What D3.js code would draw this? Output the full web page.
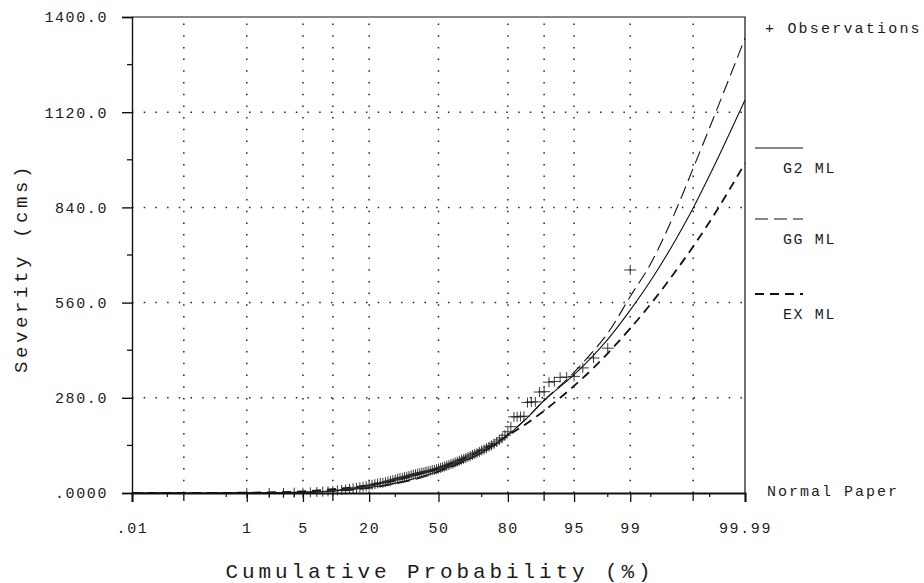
<!DOCTYPE html>
<html>
<head>
<meta charset="utf-8">
<script src="https://cdn.jsdelivr.net/npm/d3@7"></script>
<style>
  body { margin: 0; background: #fff; }
  text { font-family: 'Liberation Mono', 'DejaVu Sans Mono', monospace; fill: #1c1c1c; }
</style>
</head>
<body>
<svg id="chart" width="924" height="583"></svg>
<script>
// fitted curves at these cumulative probabilities (%)
const curvePct = [0.01, 0.1, 1, 5, 10, 20, 30, 40, 50, 60, 70, 80, 85, 90, 95, 97, 98, 99, 99.5, 99.8, 99.9, 99.95, 99.99];
const g2Values = [0, 0, 0.3, 2.5, 6, 16, 29, 45, 64, 88, 118, 170, 212, 272, 348, 405, 452, 538, 625, 745, 838, 935, 1156];
const ggValues = [0, 0, 0.2, 2, 5, 14, 27, 42, 62, 86, 118, 172, 212, 272, 355, 418, 470, 578, 675, 830, 955, 1075, 1338];
const exValues = [0, 0.1, 1, 5, 11, 23, 37, 54, 73, 96, 126, 169, 199, 242, 315, 368, 411, 484, 556, 653, 725, 798, 970];

// observations (plotting position %, severity)
const obsPct = [1, 2, 3, 4, 5, 6, 7, 8, 9, 10, 11, 12, 13, 14, 15, 16, 17, 18, 19, 20,
  21, 22, 23, 24, 25, 26, 27, 28, 29, 30, 31, 32, 33, 34, 35, 36, 37, 38, 39, 40,
  41, 42, 43, 44, 45, 46, 47, 48, 49, 50, 51, 52, 53, 54, 55, 56, 57, 58, 59, 60,
  61, 62, 63, 64, 65, 66, 67, 68, 69, 70, 71, 72, 73, 74, 75, 76, 77, 78, 79, 80,
  81, 82, 83, 84, 85, 86, 87, 88, 89, 90, 91, 92, 93, 94, 95, 96, 97, 98, 99];
const obsValues = [0, 0, 0, 1, 1, 2, 3, 4, 5, 6,
  8, 9, 10, 12, 14, 15, 17, 18, 20, 22,
  24, 26, 28, 30, 30, 32, 34, 36, 38, 40,
  42, 44, 45, 47, 48, 50, 52, 54, 55, 57,
  58, 60, 61, 63, 64, 65, 67, 68, 70, 72,
  74, 76, 78, 80, 82, 85, 87, 90, 92, 95,
  98, 100, 103, 106, 109, 112, 115, 118, 121, 125,
  128, 132, 136, 140, 145, 150, 156, 162, 170, 180,
  195, 224, 224, 225, 226, 266, 268, 268, 297, 298,
  326, 328, 340, 341, 343, 368, 397, 426, 656];

const xTickPct = [0.01, 1, 5, 20, 50, 80, 95, 99, 99.99];
const xTickLabels = ['.01', '1', '5', '20', '50', '80', '95', '99', '99.99'];
const xGridPct = [0.1, 1, 5, 10, 20, 50, 80, 90, 95, 99, 99.9];
const xMinorPct = [0.05, 0.5, 2, 3, 4, 30, 70, 98, 99.5, 99.95];
const yTicks = [0, 280, 560, 840, 1120, 1400];
const yTickLabels = ['.0000', '280.0', '560.0', '840.0', '1120.0', '1400.0'];
const yMinor = [140, 420, 700, 980, 1260];
const legendNames = ['G2 ML', 'GG ML', 'EX ML'];

// inverse normal cdf (Acklam), used for the normal-paper axis
function probit(p) {
  const a = [-3.969683028665376e+01, 2.209460984245205e+02, -2.759285104469687e+02, 1.383577518672690e+02, -3.066479806614716e+01, 2.506628277459239e+00];
  const b = [-5.447609879822406e+01, 1.615858368580409e+02, -1.556989798598866e+02, 6.680131188771972e+01, -1.328068155288572e+01];
  const c = [-7.784894002430293e-03, -3.223964580411365e-01, -2.400758277161838e+00, -2.549732539343734e+00, 4.374664141464968e+00, 2.938163982698783e+00];
  const d = [7.784695709041462e-03, 3.224671290700398e-01, 2.445134137142996e+00, 3.754408661907416e+00];
  const pl = 0.02425;
  let q, r;
  if (p < pl) {
    q = Math.sqrt(-2 * Math.log(p));
    return (((((c[0]*q+c[1])*q+c[2])*q+c[3])*q+c[4])*q+c[5]) / ((((d[0]*q+d[1])*q+d[2])*q+d[3])*q+1);
  }
  if (p > 1 - pl) {
    q = Math.sqrt(-2 * Math.log(1 - p));
    return -(((((c[0]*q+c[1])*q+c[2])*q+c[3])*q+c[4])*q+c[5]) / ((((d[0]*q+d[1])*q+d[2])*q+d[3])*q+1);
  }
  q = p - 0.5; r = q * q;
  return (((((a[0]*r+a[1])*r+a[2])*r+a[3])*r+a[4])*r+a[5])*q / (((((b[0]*r+b[1])*r+b[2])*r+b[3])*r+b[4])*r+1);
}

const margin = {top: 17, right: 179, bottom: 90, left: 132},
      width = 924 - margin.left - margin.right,
      height = 583 - margin.top - margin.bottom;

const z = d3.scaleLinear()
            .domain([probit(0.0001), probit(0.9999)])
            .range([0, width]);
const x = p => z(probit(p / 100));

const y = d3.scaleLinear()
            .domain([0, 1400])
            .range([height, 0]);

const svgRoot = d3.select('#chart');
const svg = svgRoot.append('g')
              .attr('transform', `translate(${margin.left}, ${margin.top})`);

// dotted grid
const dotStyle = g => g.attr('stroke', '#222').attr('stroke-width', 1.5).attr('stroke-dasharray', '1.5,10.2');
svg.append('g').selectAll('line')
  .data(xGridPct)
  .enter().append('line')
    .attr('x1', d => x(d)).attr('x2', d => x(d))
    .attr('y1', height).attr('y2', 0)
    .call(dotStyle);
svg.append('g').selectAll('line')
  .data(yTicks.slice(1, -1))
  .enter().append('line')
    .attr('x1', 0).attr('x2', width)
    .attr('y1', d => y(d)).attr('y2', d => y(d))
    .call(dotStyle);

// fitted curves
const line = d3.line()
  .x(d => x(d[0]))
  .y(d => y(d[1]))
  .curve(d3.curveMonotoneX);

const series = [
  {name: legendNames[0], values: g2Values, dash: null, w: 1.1},
  {name: legendNames[1], values: ggValues, dash: '13,6', w: 1.1},
  {name: legendNames[2], values: exValues, dash: '9,6', w: 1.8}
];

svg.append('g').selectAll('path')
  .data(series)
  .enter().append('path')
    .attr('d', s => line(curvePct.map((p, i) => [p, s.values[i]])))
    .attr('fill', 'none')
    .attr('stroke', '#111')
    .attr('stroke-width', s => s.w)
    .attr('stroke-dasharray', s => s.dash);

// observations
svg.append('g').selectAll('path')
  .data(obsPct.map((p, i) => [p, obsValues[i]]))
  .enter().append('path')
    .attr('transform', d => `translate(${x(d[0])}, ${y(d[1])})`)
    .attr('d', 'M-6,0H6M0,-5V5')
    .attr('stroke', '#222')
    .attr('stroke-width', 0.9)
    .attr('fill', 'none');

// frame
svg.append('path')
  .attr('d', `M0,0H${width}V${height}`)
  .attr('fill', 'none')
  .attr('stroke', '#111')
  .attr('stroke-width', 1.2);

// y axis
const yAxis = svg.append('g')
  .attr('class', 'axis Left')
  .call(d3.axisLeft(y).tickValues(yTicks).tickSize(10).tickPadding(14)
        .tickFormat((d, i) => yTickLabels[i]));
yAxis.selectAll('path, line').attr('stroke', '#111').attr('stroke-width', 1.4);
yAxis.selectAll('text')
  .attr('fill', '#1c1c1c')
  .style('font-family', "'Liberation Mono', monospace")
  .style('font-size', '15px')
  .style('letter-spacing', '1.6px');
svg.append('g').selectAll('line')
  .data(yMinor)
  .enter().append('line')
    .attr('x1', -5).attr('x2', 0)
    .attr('y1', d => y(d)).attr('y2', d => y(d))
    .attr('stroke', '#111').attr('stroke-width', 1.3);

// x axis
const xAxis = svg.append('g')
  .attr('class', 'axis Bottom')
  .attr('transform', `translate(0, ${height})`)
  .call(d3.axisBottom(z).tickValues(xTickPct.map(p => probit(p / 100)))
        .tickSize(9).tickPadding(20)
        .tickFormat((d, i) => xTickLabels[i]));
xAxis.select('path').attr('stroke', '#111').attr('stroke-width', 2);
xAxis.selectAll('line').attr('stroke', '#111').attr('stroke-width', 1.3);
xAxis.selectAll('text')
  .attr('fill', '#1c1c1c')
  .style('font-family', "'Liberation Mono', monospace")
  .style('font-size', '15px')
  .style('letter-spacing', '1.6px');

svg.append('g').selectAll('line')
  .data(xGridPct.filter(p => !xTickPct.includes(p)))
  .enter().append('line')
    .attr('x1', d => x(d)).attr('x2', d => x(d))
    .attr('y1', height).attr('y2', height + 8)
    .attr('stroke', '#111').attr('stroke-width', 1.3);
svg.append('g').selectAll('line')
  .data(xMinorPct)
  .enter().append('line')
    .attr('x1', d => x(d)).attr('x2', d => x(d))
    .attr('y1', height).attr('y2', height + 4)
    .attr('stroke', '#111').attr('stroke-width', 1.2);

// axis titles
svgRoot.append('text')
  .text('Cumulative Probability (%)')
  .attr('x', 440).attr('y', 578)
  .attr('text-anchor', 'middle')
  .style('font-size', '21px')
  .style('letter-spacing', '3.9px');

svgRoot.append('text')
  .text('Severity (cms)')
  .attr('transform', 'translate(27, 268) rotate(-90)')
  .attr('text-anchor', 'middle')
  .style('font-size', '19px')
  .style('letter-spacing', '3.6px');

// legend
const lg = svgRoot.append('g');
lg.append('text').text('+ Observations')
  .attr('x', 765).attr('y', 33)
  .style('font-size', '15px').style('letter-spacing', '2.2px');

const legendY = [148, 219, 294];
series.forEach((s, i) => {
  lg.append('line')
    .attr('x1', 755).attr('x2', 803)
    .attr('y1', legendY[i]).attr('y2', legendY[i])
    .attr('stroke', '#111')
    .attr('stroke-width', s.w)
    .attr('stroke-dasharray', s.dash);
  lg.append('text').text(s.name)
    .attr('x', 783).attr('y', legendY[i] + 25)
    .style('font-size', '15px').style('letter-spacing', '1.6px');
});

lg.append('text').text('Normal Paper')
  .attr('x', 767).attr('y', 496)
  .style('font-size', '15px').style('letter-spacing', '2px');
</script>
</body>
</html>
